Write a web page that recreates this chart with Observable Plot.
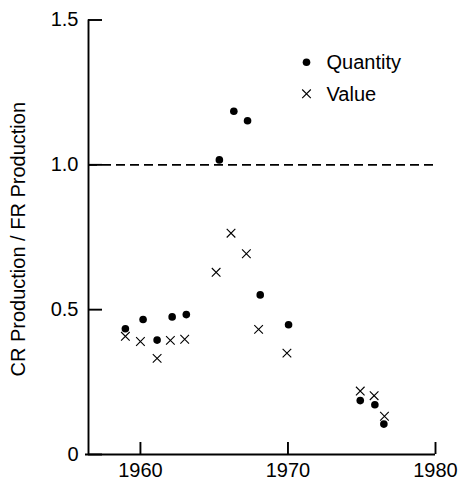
<!DOCTYPE html>
<html>
<head>
<meta charset="utf-8">
<script src="https://cdn.jsdelivr.net/npm/d3@7"></script>
<script src="https://cdn.jsdelivr.net/npm/@observablehq/plot@0.6"></script>
<style>
  html, body { margin: 0; padding: 0; background: #fff; }
  #chart { width: 460px; height: 484px; }
</style>
</head>
<body>
<div id="chart"></div>
<script>
// ---- data ----
const qYears  = [1958.98, 1960.18, 1961.13, 1962.15, 1963.11, 1965.35, 1966.33, 1967.26, 1968.12, 1970.04, 1974.9, 1975.89, 1976.5];
const qValues = [0.434, 0.466, 0.395, 0.475, 0.483, 1.017, 1.185, 1.152, 0.551, 0.448, 0.186, 0.172, 0.105];
const vYears  = [1958.98, 1960.0, 1961.13, 1962.03, 1963.0, 1965.13, 1966.14, 1967.18, 1968.01, 1969.93, 1974.9, 1975.84, 1976.54];
const vValues = [0.408, 0.390, 0.332, 0.394, 0.398, 0.629, 0.764, 0.693, 0.432, 0.350, 0.219, 0.203, 0.132];
const xTicks = [1960, 1970, 1980];
const yTicks = [0, 0.5, 1.0, 1.5];
const yTickLabels = ["0", "0.5", "1.0", "1.5"];
const xDomain = [1956.48, 1980];
const yDomain = [0, 1.5];
const refValue = [1];
const legendLabels = ["Quantity", "Value"];
const yTitle = "CR Production / FR Production";

const quantity = qYears.map((x, i) => ({x, y: qValues[i]}));
const value = vYears.map((x, i) => ({x, y: vValues[i]}));

const W = 460, H = 484;
const mL = 88, mR = 25, mT = 19.5, mB = 30;
const innerW = W - mL - mR, innerH = H - mT - mB;
const font = "'Liberation Sans', Arial, Helvetica, sans-serif";

const chart = Plot.plot({
  width: W,
  height: H,
  marginLeft: mL,
  marginRight: mR,
  marginTop: mT,
  marginBottom: mB,
  style: {fontFamily: font, fontSize: "20px", background: "#fff", color: "#000"},
  x: {domain: xDomain, axis: null},
  y: {domain: yDomain, axis: null},
  marks: [
    // reference dashed line
    Plot.ruleY(refValue, {stroke: "#000", strokeWidth: 1.9, strokeDasharray: "9,5"}),
    // axis lines
    Plot.ruleX([xDomain[0]], {stroke: "#000", strokeWidth: 1.9}),
    Plot.ruleY([yDomain[0]], {stroke: "#000", strokeWidth: 1.9, insetLeft: -3}),
    // inward ticks
    Plot.tickY(yTicks, {y: d => d, insetRight: innerW - 14, stroke: "#000", strokeWidth: 1.9}),
    Plot.tickX(xTicks, {x: d => d, insetTop: innerH - 12, stroke: "#000", strokeWidth: 1.9}),
    // tick labels
    Plot.axisY(yTicks, {tickSize: 0, tickPadding: 10, tickFormat: d => yTickLabels[yTicks.indexOf(d)], label: null, fontSize: 20}),
    Plot.axisX(xTicks, {tickSize: 0, tickPadding: 8, tickFormat: d => String(d), label: null, fontSize: 20}),
    // y title
    Plot.text([yTitle], {frameAnchor: "left", textAnchor: "middle", lineAnchor: "middle", rotate: -90, dx: -69.5, dy: 2, fontSize: 20, fill: "#000"}),
    // data
    Plot.dot(value, {x: "x", y: "y", symbol: "times", r: 4, stroke: "#000", strokeWidth: 1.1}),
    Plot.dot(quantity, {x: "x", y: "y", r: 3.8, fill: "#000", stroke: "none"}),
    // legend
    Plot.dot([legendLabels[0]], {frameAnchor: "top-left", dx: 218, dy: 42.2, r: 3.8, fill: "#000", stroke: "none"}),
    Plot.dot([legendLabels[1]], {frameAnchor: "top-left", dx: 218, dy: 73.8, symbol: "times", r: 4, stroke: "#000", strokeWidth: 1.1}),
    Plot.text([legendLabels[0]], {frameAnchor: "top-left", dx: 238, dy: 43, text: d => d, textAnchor: "start", lineAnchor: "middle", fontSize: 20, fill: "#000"}),
    Plot.text([legendLabels[1]], {frameAnchor: "top-left", dx: 238, dy: 75, text: d => d, textAnchor: "start", lineAnchor: "middle", fontSize: 20, fill: "#000"})
  ]
});
document.getElementById("chart").appendChild(chart);
</script>
</body>
</html>
